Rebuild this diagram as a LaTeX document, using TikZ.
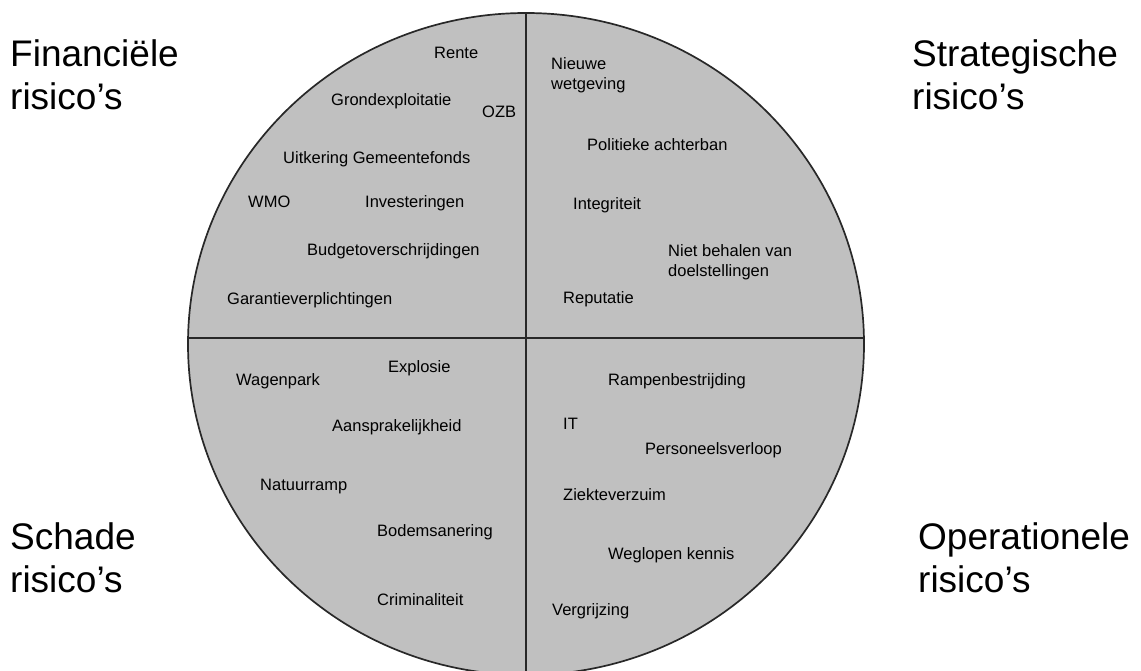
\documentclass[tikz,border=0pt]{standalone}
\usepackage{fontspec}
\setmainfont{Liberation Sans}
\definecolor{piefill}{RGB}{192,192,192}
\definecolor{pieline}{RGB}{40,40,40}
\tikzset{
  big/.style={anchor=base west, inner sep=0pt, font=\fontsize{37}{44}\selectfont, align=left},
  lbl/.style={anchor=base west, inner sep=0pt, font=\fontsize{16.5}{20}\selectfont},
  lbltwo/.style={anchor=north west, inner sep=0pt, font=\fontsize{16.5}{20}\selectfont, align=left},
  divider/.style={draw=pieline, line width=1.7pt},
}
\begin{document}
\begin{tikzpicture}[x=1pt,y=-1pt]
\useasboundingbox (0,0) rectangle (1141,671);
% pie
\coordinate (c) at (526,344);
\fill[piefill] (c) ellipse [x radius=338, y radius=331];
\coordinate (top) at (526,13);
\coordinate (bot) at (526,675);
\coordinate (lft) at (188.5,338);
\coordinate (rgt) at (863.5,338);
\draw[divider] (top) -- (bot);
\draw[divider] (lft) -- (rgt);
\draw[divider] (c) ellipse [x radius=338, y radius=331];
% corner titles
\node[big] (fin1) at (10,67) {Financiële};
\node[big] (fin2) at (10,110) {risico’s};
\node[big] (str1) at (912,67) {Strategische};
\node[big] (str2) at (912,110) {risico’s};
\node[big] (sch1) at (10,549) {Schade};
\node[big] (sch2) at (10,592) {risico’s};
\node[big] (ope1) at (918,549) {Operationele};
\node[big] (ope2) at (918,592) {risico’s};
% financial
\node[lbl] (rente) at (434,59) {Rente};
\node[lbl] (grond) at (331,106) {Grondexploitatie};
\node[lbl] (ozb) at (482,118) {OZB};
\node[lbl] (uitk) at (283,164) {Uitkering Gemeentefonds};
\node[lbl] (wmo) at (248,208) {WMO};
\node[lbl] (inv) at (365,208) {Investeringen};
\node[lbl] (budget) at (307,256) {Budgetoverschrijdingen};
\node[lbl] (garant) at (227,304) {Garantieverplichtingen};
% strategic
\node[lbltwo] (nieuw) at (551,57) {Nieuwe\\wetgeving};
\node[lbl] (polit) at (587,151) {Politieke achterban};
\node[lbl] (integ) at (573,210) {Integriteit};
\node[lbltwo] (niet) at (668,244) {Niet behalen van\\doelstellingen};
\node[lbl] (reput) at (563,303) {Reputatie};
% damage
\node[lbl] (wagen) at (236,385) {Wagenpark};
\node[lbl] (explo) at (388,372) {Explosie};
\node[lbl] (aansp) at (332,431) {Aansprakelijkheid};
\node[lbl] (natuur) at (260,490) {Natuurramp};
\node[lbl] (bodem) at (377,536) {Bodemsanering};
\node[lbl] (crimi) at (377,605) {Criminaliteit};
% operational
\node[lbl] (rampen) at (608,385) {Rampenbestrijding};
\node[lbl] (it) at (563,429) {IT};
\node[lbl] (perso) at (645,454) {Personeelsverloop};
\node[lbl] (ziekte) at (563,500) {Ziekteverzuim};
\node[lbl] (weglo) at (608,559) {Weglopen kennis};
\node[lbl] (vergr) at (552,615) {Vergrijzing};
\end{tikzpicture}
\end{document}
